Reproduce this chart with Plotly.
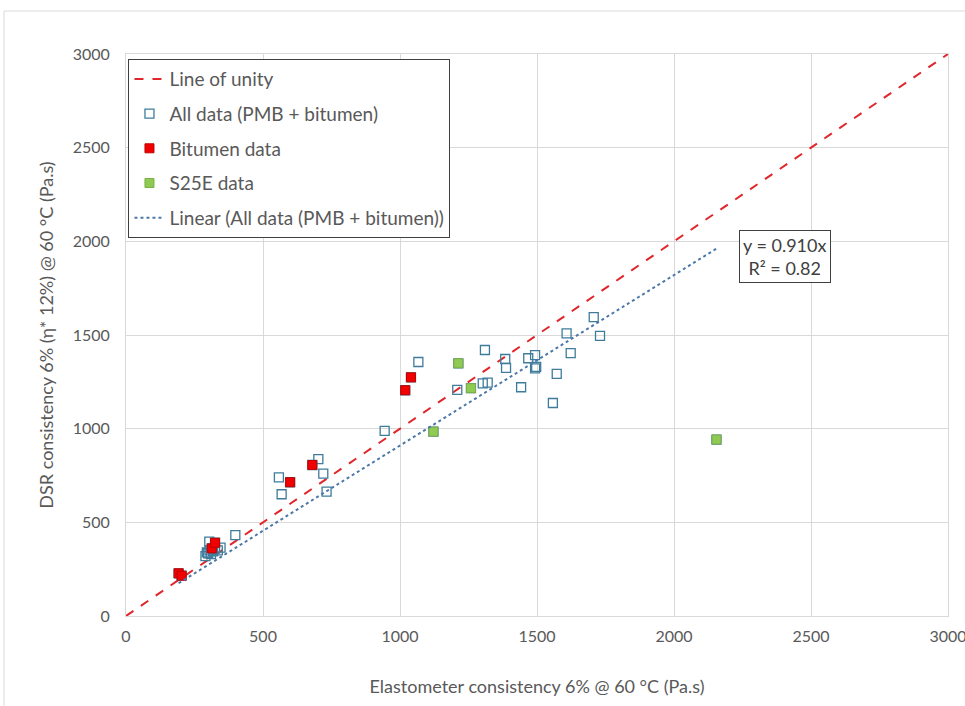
import plotly.graph_objects as go

# --- data ---
all_only_x = [290, 295, 300, 305, 310, 318, 325, 335, 345, 304, 399, 558, 568, 702, 720, 732,
              944, 1067, 1209, 1310, 1302, 1320, 1384, 1387, 1442, 1468, 1493, 1493, 1497,
              1558, 1572, 1608, 1623, 1707, 1730]
all_only_y = [320, 340, 335, 350, 330, 345, 360, 350, 365, 397, 432, 740, 650, 837, 760, 664,
              988, 1356, 1207, 1420, 1242, 1246, 1372, 1324, 1221, 1376, 1393, 1322, 1330,
              1137, 1292, 1509, 1403, 1595, 1495]
bitumen_x = [192, 203, 313, 325, 599, 680, 1019, 1040]
bitumen_y = [228, 215, 361, 391, 714, 806, 1205, 1274]
s25e_x = [1122, 1213, 1259, 2155]
s25e_y = [984, 1349, 1216, 942]
unity = [0, 3000]
slope = 0.910
r2 = 0.82
ticks = [0, 500, 1000, 1500, 2000, 2500, 3000]

all_x = all_only_x + bitumen_x + s25e_x
all_y = all_only_y + bitumen_y + s25e_y
trend_x = [min(all_x), max(all_x)]
trend_y = [slope * v for v in trend_x]

FONT = "Lato, sans-serif"
TXT = "#595959"
GRID = "#D9D9D9"

fig = go.Figure()
fig.add_trace(go.Scatter(x=unity, y=unity, mode="lines", name="Line of unity",
                         legendgroup="a",
                         line=dict(color="#E0262B", width=2, dash="dash")))
fig.add_trace(go.Scatter(x=all_x, y=all_y, mode="markers", name="All data (PMB + bitumen)",
                         legendgroup="b",
                         marker=dict(symbol="square", size=9, color="rgba(255,255,255,0)",
                                     line=dict(color="#3F7C9C", width=1.3))))
fig.add_trace(go.Scatter(x=bitumen_x, y=bitumen_y, mode="markers", name="Bitumen data",
                         legendgroup="c",
                         marker=dict(symbol="square", size=9, color="#F00000",
                                     line=dict(color="#C00000", width=1))))
fig.add_trace(go.Scatter(x=s25e_x, y=s25e_y, mode="markers", name="S25E data",
                         legendgroup="d",
                         marker=dict(symbol="square", size=9, color="#8FCB52",
                                     line=dict(color="#7BAF48", width=1))))
fig.add_trace(go.Scatter(x=trend_x, y=trend_y, mode="lines",
                         name="Linear (All data (PMB + bitumen))",
                         legendgroup="e",
                         line=dict(color="#4C78A8", width=2, dash="dot")))

axis_common = dict(range=[0, 3000], tickvals=ticks, showgrid=True, gridcolor=GRID,
                   gridwidth=1, zeroline=False, showline=True, mirror=True, linecolor=GRID,
                   linewidth=1, ticks="", tickfont=dict(family=FONT, size=16, color=TXT),
                   ticklabeloverflow="allow", automargin=False, fixedrange=True)

fig.update_layout(
    width=965, height=706,
    margin=dict(l=126, r=17, t=54, b=90),
    paper_bgcolor="white", plot_bgcolor="white",
    font=dict(family=FONT, color=TXT),
    xaxis=dict(axis_common, ticklabelstandoff=6,
               title=dict(text="Elastometer consistency 6% @ 60 °C (Pa.s)",
                          font=dict(family=FONT, size=18, color=TXT), standoff=36)),
    yaxis=dict(axis_common, ticklabelstandoff=12,
               title=dict(text="DSR consistency 6% (η* 12%) @ 60 °C (Pa.s)",
                          font=dict(family=FONT, size=18, color=TXT), standoff=14)),
    legend=dict(x=0.003, y=0.991, xanchor="left", yanchor="top",
                bgcolor="white", bordercolor="#404040", borderwidth=1,
                font=dict(family=FONT, size=19, color=TXT),
                traceorder="grouped", tracegroupgap=7),
    showlegend=True,
)

fig.add_annotation(xref="x", yref="y", x=2405, y=1917,
                   text=f"y = {slope:.3f}x<br>R² = {r2:.2f}",
                   showarrow=False, align="center",
                   font=dict(family=FONT, size=18, color="#404040"),
                   bordercolor="#404040", borderwidth=1, borderpad=3, bgcolor="white")

# outer chart frame
fig.add_shape(type="rect", xref="paper", yref="paper",
              x0=(4 - 126) / 822, x1=1.2, y0=-0.3, y1=(616 - 11) / 562,
              line=dict(color=GRID, width=1), fillcolor="rgba(0,0,0,0)", layer="below")

fig.write_html("out.html")
